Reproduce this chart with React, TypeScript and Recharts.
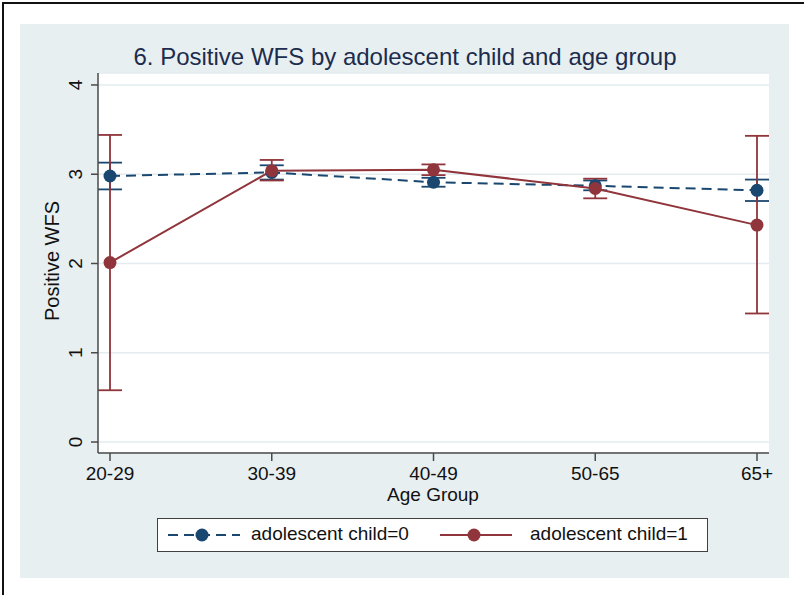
import { LineChart, Line, XAxis, YAxis, CartesianGrid, ErrorBar } from 'recharts';

const ageGroups = ['20-29', '30-39', '40-49', '50-65', '65+'];

// adolescent child = 0
const child0Mean = [2.98, 3.02, 2.91, 2.87, 2.82];
const child0Low = [2.83, 2.94, 2.86, 2.82, 2.70];
const child0High = [3.13, 3.10, 2.96, 2.93, 2.94];

// adolescent child = 1
const child1Mean = [2.01, 3.04, 3.05, 2.84, 2.43];
const child1Low = [0.58, 2.93, 2.99, 2.73, 1.44];
const child1High = [3.44, 3.16, 3.11, 2.95, 3.43];

const yTicks = [0, 1, 2, 3, 4];

const legendLabels = ['adolescent child=0', 'adolescent child=1'];

const NAVY = '#1a476f';
const MAROON = '#90353b';
const PANEL = '#e8eff1';
const GRID = '#e3ecef';
const AXIS = '#4a4a4a';
const FONT = "'Liberation Sans', Arial, Helvetica, sans-serif";

const rows = ageGroups.map((age, i) => ({
  age,
  m0: child0Mean[i],
  e0: [child0Mean[i] - child0Low[i], child0High[i] - child0Mean[i]],
  m1: child1Mean[i],
  e1: [child1Mean[i] - child1Low[i], child1High[i] - child1Mean[i]],
}));

const VerticalTick = (props: any) => {
  const { x, y, payload } = props;
  return (
    <text
      x={x}
      y={y}
      transform={`rotate(-90 ${x} ${y})`}
      textAnchor="middle"
      fontSize={19}
      fontFamily={FONT}
      fill="#111"
    >
      {payload.value}
    </text>
  );
};

function LegendKey({ color, dashed }: { color: string; dashed: boolean }) {
  return (
    <svg width={74} height={14} style={{ display: 'block' }}>
      <line
        x1={0}
        y1={7}
        x2={72}
        y2={7}
        stroke={color}
        strokeWidth={2}
        strokeDasharray={dashed ? '10 6' : undefined}
      />
      <circle cx={34} cy={7} r={6.5} fill={color} />
    </svg>
  );
}

export default function App() {
  return (
    <div style={{ position: 'absolute', left: 0, top: 0, width: 804, height: 595, background: '#fff', fontFamily: FONT }}>
      {/* frame edges */}
      <div style={{ position: 'absolute', left: 2, top: 2, width: 802, height: 2, background: '#111' }} />
      <div style={{ position: 'absolute', left: 2, top: 2, width: 2, height: 593, background: '#111' }} />

      {/* graph region */}
      <div style={{ position: 'absolute', left: 20, top: 24, width: 769, height: 554, background: PANEL }} />

      <div
        style={{
          position: 'absolute',
          left: 0,
          width: 810,
          top: 43,
          textAlign: 'center',
          fontSize: 24,
          color: '#1c2c4e',
          whiteSpace: 'nowrap',
        }}
      >
        6. Positive WFS by adolescent child and age group
      </div>

      <div style={{ position: 'absolute', left: 0, top: 0 }}>
        <LineChart width={804} height={595} data={rows} margin={{ top: 73, right: 35, bottom: 112, left: 68 }}>
          <CartesianGrid vertical={false} fill="#fff" stroke={GRID} strokeWidth={1.5} />
          <XAxis
            dataKey="age"
            height={30}
            padding={{ left: 12, right: 12 }}
            axisLine={{ stroke: AXIS, strokeWidth: 1.5 }}
            tickLine={{ stroke: AXIS, strokeWidth: 1.5 }}
            tickSize={8}
            tickMargin={6}
            tick={{ fontSize: 19, fill: '#111', fontFamily: FONT }}
            interval={0}
          />
          <YAxis
            width={30}
            type="number"
            domain={[-0.123, 4.134]}
            ticks={yTicks}
            allowDataOverflow
            axisLine={{ stroke: AXIS, strokeWidth: 1.5 }}
            tickLine={{ stroke: AXIS, strokeWidth: 1.5 }}
            tickSize={7}
            tickMargin={9}
            tick={VerticalTick}
          />
          <Line
            type="linear"
            dataKey="m0"
            stroke={NAVY}
            strokeWidth={2}
            strokeDasharray="10 6"
            dot={{ r: 6.5, fill: NAVY, stroke: NAVY, strokeWidth: 0 }}
            activeDot={false}
            isAnimationActive={false}
          >
            <ErrorBar dataKey="e0" width={12} stroke={NAVY} strokeWidth={1.8} direction="y" />
          </Line>
          <Line
            type="linear"
            dataKey="m1"
            stroke={MAROON}
            strokeWidth={2}
            dot={{ r: 6.5, fill: MAROON, stroke: MAROON, strokeWidth: 0 }}
            activeDot={false}
            isAnimationActive={false}
          >
            <ErrorBar dataKey="e1" width={12} stroke={MAROON} strokeWidth={1.8} direction="y" />
          </Line>
        </LineChart>
      </div>

      {/* axis titles */}
      <div
        style={{
          position: 'absolute',
          left: 52,
          top: 261,
          transform: 'translate(-50%, -50%) rotate(-90deg)',
          fontSize: 20,
          color: '#111',
          whiteSpace: 'nowrap',
        }}
      >
        Positive WFS
      </div>
      <div
        style={{
          position: 'absolute',
          left: 433,
          top: 495,
          transform: 'translate(-50%, -50%)',
          fontSize: 19,
          color: '#111',
          whiteSpace: 'nowrap',
        }}
      >
        Age Group
      </div>

      {/* legend */}
      <div
        style={{
          position: 'absolute',
          left: 157,
          top: 518,
          width: 549,
          height: 32,
          background: '#fff',
          border: '1.5px solid #404040',
        }}
      >
        <div style={{ position: 'absolute', left: 10, top: 9 }}>
          <LegendKey color={NAVY} dashed />
        </div>
        <div style={{ position: 'absolute', left: 93, top: 4, fontSize: 19, color: '#111', whiteSpace: 'nowrap' }}>
          {legendLabels[0]}
        </div>
        <div style={{ position: 'absolute', left: 282, top: 9 }}>
          <LegendKey color={MAROON} dashed={false} />
        </div>
        <div style={{ position: 'absolute', left: 372, top: 4, fontSize: 19, color: '#111', whiteSpace: 'nowrap' }}>
          {legendLabels[1]}
        </div>
      </div>
    </div>
  );
}
